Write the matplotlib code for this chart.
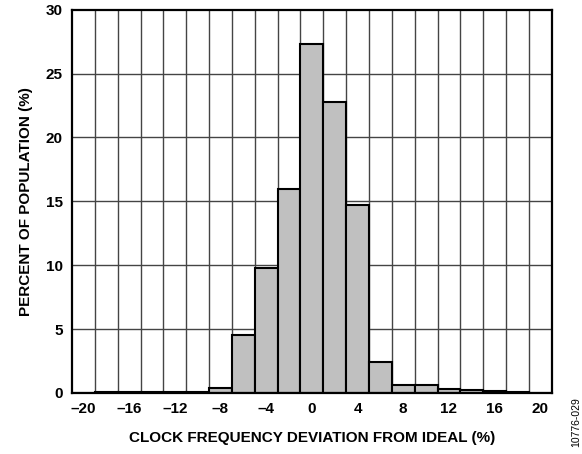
import matplotlib
matplotlib.use("Agg")
import matplotlib.pyplot as plt

plt.rcParams['font.family'] = ['Liberation Sans', 'DejaVu Sans']

bin_centers = [-20, -18, -16, -14, -12, -10, -8, -6, -4, -2, 0, 2, 4, 6, 8, 10, 12, 14, 16, 18, 20]
percent = [0.0, 0.1, 0.05, 0.05, 0.05, 0.1, 0.4, 4.5, 9.8, 16.0, 27.3, 22.8, 14.7, 2.4, 0.6, 0.6, 0.3, 0.2, 0.15, 0.05, 0.0]
x_ticks = [-20, -16, -12, -8, -4, 0, 4, 8, 12, 16, 20]
x_tick_labels = ['\u201320', '\u201316', '\u201312', '\u20138', '\u20134', '0', '4', '8', '12', '16', '20']
y_ticks = [0, 5, 10, 15, 20, 25, 30]

fig = plt.figure(figsize=(5.82, 4.54), dpi=100)
ax = fig.add_axes([0.1237, 0.1344, 0.8243, 0.8442])

# grid lines
for gx in range(-19, 21, 2):
    ax.axvline(gx, color='#444444', lw=1.0, zorder=1)
for gy in y_ticks[1:-1]:
    ax.axhline(gy, color='#444444', lw=1.0, zorder=1)

ax.bar(bin_centers, percent, width=2.0, color='#c0c0c0', edgecolor='black',
       linewidth=1.5, zorder=2)

ax.set_xlim(-21, 21)
ax.set_ylim(0, 30)
ax.set_xticks(x_ticks)
ax.set_xticklabels(x_tick_labels)
ax.set_yticks(y_ticks)
ax.tick_params(length=0, labelsize=11, pad=6.5)
for lab in ax.get_xticklabels() + ax.get_yticklabels():
    lab.set_fontweight('bold')
for s in ax.spines.values():
    s.set_linewidth(1.6)
    s.set_zorder(5)

ax.set_xlabel('CLOCK FREQUENCY DEVIATION FROM IDEAL (%)', fontsize=11,
              fontweight='bold', labelpad=11)
ax.set_ylabel('PERCENT OF POPULATION (%)', fontsize=11, fontweight='bold',
              labelpad=9)

fig.text(0.9897, 0.0705, '10776-029', rotation=90, fontsize=7.5, ha='center',
         va='center')

fig.savefig('out.png', dpi=100)
